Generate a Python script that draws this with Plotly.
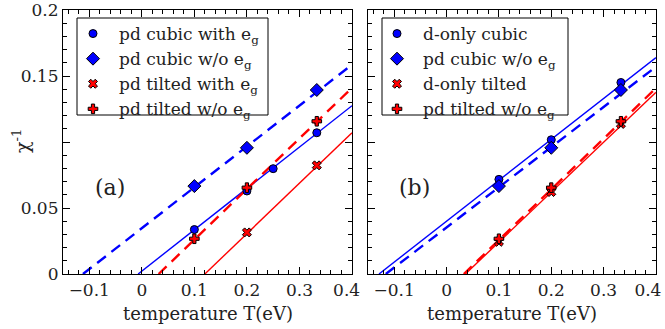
import plotly.graph_objects as go

# ---------------- data ----------------
T3 = [0.1, 0.2, 0.333]
T4 = [0.1, 0.2, 0.25, 0.333]
T2 = [0.2, 0.333]

# panel (a)
a_cubic_with_eg = [0.0337, 0.0629, 0.0798, 0.107]
a_cubic_wo_eg = [0.0666, 0.0956, 0.1394]
a_tilted_with_eg = [0.0315, 0.0823]
a_tilted_wo_eg = [0.0267, 0.0654, 0.1157]

# panel (b)
b_donly_cubic = [0.0717, 0.1017, 0.1451]
b_cubic_wo_eg = [0.0666, 0.0956, 0.1394]
b_donly_tilted = [0.0244, 0.0621, 0.1137]
b_tilted_wo_eg = [0.0267, 0.0654, 0.1157]

# fitted straight lines (end points)
fit_a_cubic_with_x, fit_a_cubic_with_y = [-0.007, 0.4], [0.0, 0.1275]
fit_a_cubic_wo_x, fit_a_cubic_wo_y = [-0.112, 0.4], [0.0, 0.1586]
fit_a_tilted_with_x, fit_a_tilted_with_y = [0.12, 0.4], [0.0, 0.107]
fit_a_tilted_wo_x, fit_a_tilted_wo_y = [0.032, 0.4], [0.0, 0.141]

fit_b_donly_cubic_x, fit_b_donly_cubic_y = [-0.129, 0.4], [0.0, 0.164]
fit_b_cubic_wo_x, fit_b_cubic_wo_y = [-0.116, 0.4], [0.0, 0.157]
fit_b_donly_tilted_x, fit_b_donly_tilted_y = [0.036, 0.4], [0.0, 0.1376]
fit_b_tilted_wo_x, fit_b_tilted_wo_y = [0.033, 0.4], [0.0, 0.1409]

x_tickvals = [-0.1, 0, 0.1, 0.2, 0.3, 0.4]
x_ticktext_a = ["\u22120.1", "0", "0.1", "0.2", "0.3", "0.4\u00a0\u00a0"]
x_ticktext_b = ["\u22120.1", "0", "0.1", "0.2", "0.3", "0.4\u00a0\u00a0\u00a0"]
y_tickvals = [0, 0.05, 0.1, 0.15, 0.2]
y_ticktext = ["0", "0.05", "", "0.15", "0.2"]

# ---------------- styling ----------------
BLUE = "#0000ff"
RED = "#ff0000"
FONT = "DejaVu Serif"
TXT = "#222222"
W, H = 665, 329

fig = go.Figure()


def markers(x, y, name, color, symbol, xa, ya, legend, size=8):
    fig.add_trace(go.Scatter(
        x=x, y=y, mode="markers", name=name, xaxis=xa, yaxis=ya, legend=legend,
        marker=dict(color=color, symbol=symbol, size=size,
                    line=dict(color="black", width=1)),
        cliponaxis=False))


def fitline(x, y, color, dash, width, xa, ya):
    fig.add_trace(go.Scatter(
        x=x, y=y, mode="lines", showlegend=False, xaxis=xa, yaxis=ya,
        line=dict(color=color, dash=dash, width=width)))


DASH = "11px,7px"
# panel (a) lines
fitline(fit_a_cubic_with_x, fit_a_cubic_with_y, BLUE, "solid", 1.4, "x", "y")
fitline(fit_a_cubic_wo_x, fit_a_cubic_wo_y, BLUE, DASH, 2.4, "x", "y")
fitline(fit_a_tilted_with_x, fit_a_tilted_with_y, RED, "solid", 1.4, "x", "y")
fitline(fit_a_tilted_wo_x, fit_a_tilted_wo_y, RED, DASH, 2.4, "x", "y")
# panel (b) lines
fitline(fit_b_donly_cubic_x, fit_b_donly_cubic_y, BLUE, "solid", 1.4, "x2", "y2")
fitline(fit_b_cubic_wo_x, fit_b_cubic_wo_y, BLUE, DASH, 2.4, "x2", "y2")
fitline(fit_b_donly_tilted_x, fit_b_donly_tilted_y, RED, "solid", 1.4, "x2", "y2")
fitline(fit_b_tilted_wo_x, fit_b_tilted_wo_y, RED, DASH, 2.4, "x2", "y2")

# panel (a) markers
markers(T4, a_cubic_with_eg, "pd cubic with e<sub>g</sub>", BLUE, "circle", "x", "y", "legend")
markers(T3, a_cubic_wo_eg, "pd cubic w/o e<sub>g</sub>", BLUE, "diamond", "x", "y", "legend", 10)
markers(T2, a_tilted_with_eg, "pd tilted with e<sub>g</sub>", RED, "x", "x", "y", "legend", 8)
markers(T3, a_tilted_wo_eg, "pd tilted w/o e<sub>g</sub>", RED, "cross", "x", "y", "legend", 8)
# panel (b) markers
markers(T3, b_donly_cubic, "d-only cubic", BLUE, "circle", "x2", "y2", "legend2")
markers(T3, b_cubic_wo_eg, "pd cubic w/o e<sub>g</sub>", BLUE, "diamond", "x2", "y2", "legend2", 10)
markers(T3, b_donly_tilted, "d-only tilted", RED, "x", "x2", "y2", "legend2", 8)
markers(T3, b_tilted_wo_eg, "pd tilted w/o e<sub>g</sub>", RED, "cross", "x2", "y2", "legend2", 8)

xa_dom = [63 / W, 352 / W]
xb_dom = [368 / W, 656 / W]
y_dom = [(H - 274) / H, (H - 10) / H]

common_x = dict(
    range=[-0.15, 0.4], tickvals=x_tickvals,
    ticks="inside", ticklen=7, tickwidth=1, tickcolor="black",
    showline=True, linecolor="black", linewidth=1.2, mirror="allticks",
    showgrid=False, zeroline=False, automargin=False, ticklabeloverflow="allow",
    tickfont=dict(family=FONT, size=17, color=TXT),
    minor=dict(dtick=0.02, tick0=0, ticks="inside", ticklen=4, tickcolor="black", showgrid=False),
)
common_y = dict(
    range=[0, 0.2], tickvals=y_tickvals,
    ticks="inside", ticklen=7, tickwidth=1, tickcolor="black",
    showline=True, linecolor="black", linewidth=1.2, mirror="allticks",
    showgrid=False, zeroline=False, automargin=False, ticklabeloverflow="allow",
    tickfont=dict(family=FONT, size=17, color=TXT),
    minor=dict(dtick=0.01, tick0=0, ticks="inside", ticklen=4, tickcolor="black", showgrid=False),
)

legend_common = dict(
    bgcolor="rgba(0,0,0,0)", borderwidth=0,
    font=dict(family=FONT, size=17, color=TXT),
    xanchor="left", yanchor="top", itemwidth=42,
    tracegroupgap=0,
)


def px_x(p):
    return p / W


def px_y(p):
    return (H - p) / H


def ann(text, x, y, size, **kw):
    return dict(text=text, x=px_x(x), y=px_y(y), xref="paper", yref="paper",
                xanchor="center", yanchor="middle", showarrow=False,
                font=dict(family=FONT, size=size, color=TXT), **kw)


fig.update_layout(
    template="none",
    width=W, height=H, autosize=False,
    margin=dict(l=0, r=0, t=0, b=0, pad=0),
    paper_bgcolor="white", plot_bgcolor="white",
    font=dict(family=FONT, color=TXT),
    xaxis=dict(domain=xa_dom, anchor="y", ticktext=x_ticktext_a, **common_x),
    yaxis=dict(domain=y_dom, anchor="x", ticktext=y_ticktext, showticklabels=True, **common_y),
    xaxis2=dict(domain=xb_dom, anchor="y2", ticktext=x_ticktext_b, **common_x),
    yaxis2=dict(domain=y_dom, anchor="x2", showticklabels=False, **common_y),
    legend=dict(x=px_x(67), y=px_y(16), **legend_common),
    legend2=dict(x=px_x(371), y=px_y(16), **legend_common),
    shapes=[
        dict(type="rect", xref="paper", yref="paper", x0=px_x(77), x1=px_x(268),
             y0=px_y(115), y1=px_y(18), line=dict(color="black", width=1),
             fillcolor="white", layer="below"),
        dict(type="rect", xref="paper", yref="paper", x0=px_x(382), x1=px_x(568),
             y0=px_y(115), y1=px_y(18), line=dict(color="black", width=1),
             fillcolor="white", layer="below"),
    ],
    annotations=[
        ann("temperature T(eV)", (63 + 352) / 2, 313, 18),
        ann("temperature T(eV)", (368 + 656) / 2, 313, 18),
        ann("\u03c7<sup>-1</sup>", 21, 141, 19, textangle=-90),
        ann("(a)", 110, 187, 22),
        ann("(b)", 414, 187, 22),
    ],
)

fig.write_html("out.html")
